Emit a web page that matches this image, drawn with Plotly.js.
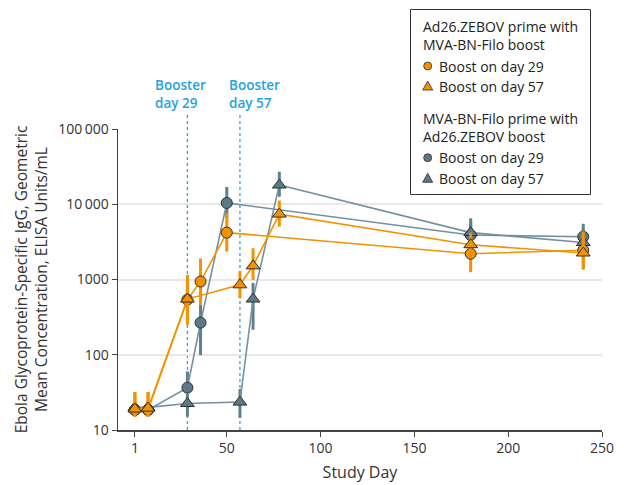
<!DOCTYPE html>
<html>
<head>
<meta charset="utf-8">
<script src="https://cdn.plot.ly/plotly-3.0.1.min.js"></script>
<style>html,body{margin:0;padding:0;background:#fff;}#chart{width:624px;height:485px;}</style>
</head>
<body>
<div id="chart"></div>
<script>
// Ad26.ZEBOV prime with MVA-BN-Filo boost, boost on day 29
const daysA29 = [1, 8, 29, 36, 50, 180, 240];
const gmcA29  = [18.5, 18.5, 540, 940, 4200, 2200, 2450];
const loA29   = [15, 15, 250, 460, 2350, 1250, 1400];
const hiA29   = [32, 32, 1150, 1900, 7600, 3600, 4300];
// Ad26.ZEBOV prime with MVA-BN-Filo boost, boost on day 57
const daysA57 = [1, 8, 29, 57, 64, 78, 180, 240];
const gmcA57  = [19, 19.5, 550, 850, 1520, 7400, 2900, 2250];
const loA57   = [15, 15, 300, 560, 990, 5050, 2000, 1350];
const hiA57   = [32, 32, 1000, 1300, 2600, 11200, 4200, 3800];
// MVA-BN-Filo prime with Ad26.ZEBOV boost, boost on day 29
const daysM29 = [1, 8, 29, 36, 50, 180, 240];
const gmcM29  = [18.5, 18.5, 36.5, 267, 10400, 3900, 3700];
const loM29   = [16, 16, 31, 99, 6500, 2600, 2500];
const hiM29   = [22, 22, 60, 460, 17000, 5800, 5500];
// MVA-BN-Filo prime with Ad26.ZEBOV boost, boost on day 57
const daysM57 = [1, 8, 29, 57, 64, 78, 180, 240];
const gmcM57  = [20, 20, 22.5, 23.5, 550, 18000, 4200, 3100];
const loM57   = [17, 17, 15, 14.5, 215, 12600, 2800, 2000];
const hiM57   = [24, 24, 30, 35, 900, 27000, 6500, 4700];

const boosterDays = [29, 57];
const yTickVals = [10, 100, 1000, 10000, 100000];
const yTickText = ['10', '100', '1000', '10\u2009000', '100\u2009000'];
const xTickVals = [1, 50, 100, 150, 200, 250];

const groupTitles = [['Ad26.ZEBOV prime with', 'MVA-BN-Filo boost'], ['MVA-BN-Filo prime with', 'Ad26.ZEBOV boost']];
const itemLabels = ['Boost on day 29', 'Boost on day 57'];

const ORANGE = '#f39200';
const GRAY_LINE = '#7391a0';
const GRAY_FILL = '#5c7988';
const GRAY_BAR = '#60808e';
const OUTLINE = '#2e2e2e';
const BLUE = '#1fa3dd';
const FONT = '"Open Sans", Roboto, sans-serif';

function series(days, gmc, lo, hi, lineColor, fill, barColor, symbol, size) {
  return {
    x: days, y: gmc, type: 'scatter', mode: 'lines+markers', showlegend: false,
    line: {color: lineColor, width: 1.6},
    marker: {symbol: symbol, size: size, color: fill, line: {color: OUTLINE, width: 1}},
    error_y: {type: 'data', symmetric: false,
      array: hi.map((h, i) => h - gmc[i]),
      arrayminus: lo.map((l, i) => gmc[i] - l),
      color: barColor, thickness: 3, width: 0},
    cliponaxis: false
  };
}

const data = [
  series(daysM29, gmcM29, loM29, hiM29, GRAY_LINE, GRAY_FILL, GRAY_BAR, 'circle', 11),
  series(daysM57, gmcM57, loM57, hiM57, GRAY_LINE, GRAY_FILL, GRAY_BAR, 'triangle-up', 12),
  series(daysA29, gmcA29, loA29, hiA29, ORANGE, ORANGE, ORANGE, 'circle', 11),
  series(daysA57, gmcA57, loA57, hiA57, ORANGE, ORANGE, ORANGE, 'triangle-up', 12)
];

// ---- layout helpers (pixel -> paper coordinates of the plot area) ----
const M = {l: 118, r: 22, t: 129, b: 55};
const PW = 624 - M.l - M.r, PH = 485 - M.t - M.b;
const px = p => (p - M.l) / PW;
const py = p => (485 - M.b - p) / PH;

const shapes = boosterDays.map(d => ({
  type: 'line', xref: 'x', yref: 'paper', x0: d, x1: d, y0: 0, y1: py(115),
  line: {color: '#22a8e6', width: 1.3, dash: 'dot'}, layer: 'below'
}));

// legend box
shapes.push({type: 'rect', xref: 'paper', yref: 'paper', x0: px(410.5), x1: px(590.5), y0: py(194.5), y1: py(9.5),
  fillcolor: '#fff', line: {color: '#333', width: 1}, layer: 'above'});

const legendFills = [ORANGE, GRAY_FILL];
const rowY = [[26, 44.3, 66, 86], [118.3, 136.7, 157.7, 178.3]];
const annotations = [];
groupTitles.forEach((lines, g) => {
  lines.forEach((t, k) => annotations.push({xref: 'paper', yref: 'paper', x: px(421), y: py(rowY[g][k]),
    xanchor: 'left', yanchor: 'middle', text: t, showarrow: false, font: {size: 14, color: '#222'}}));
  itemLabels.forEach((t, k) => {
    annotations.push({xref: 'paper', yref: 'paper', x: px(437), y: py(rowY[g][2 + k]),
      xanchor: 'left', yanchor: 'middle', text: t, showarrow: false, font: {size: 14, color: '#222'}});
    const common = {xref: 'paper', yref: 'paper', xsizemode: 'pixel', ysizemode: 'pixel',
      xanchor: px(427.7), yanchor: py(rowY[g][2 + k]), fillcolor: legendFills[g],
      line: {color: OUTLINE, width: 0.8}, layer: 'above'};
    if (k === 0) shapes.push(Object.assign({type: 'circle', x0: -4, x1: 4, y0: -4, y1: 4}, common));
    else shapes.push(Object.assign({type: 'path', path: 'M-5,-4 L5,-4 L0,5 Z'}, common));
  });
});

annotations.push(
  {xref: 'x', yref: 'paper', x: 25.3, y: py(94), xanchor: 'center', yanchor: 'middle', align: 'left',
   text: 'Booster<br>day ' + boosterDays[0], showarrow: false, font: {size: 13.5, color: BLUE, weight: 600}},
  {xref: 'x', yref: 'paper', x: 64.5, y: py(94), xanchor: 'center', yanchor: 'middle', align: 'left',
   text: 'Booster<br>day ' + boosterDays[1], showarrow: false, font: {size: 13.5, color: BLUE, weight: 600}}
);

const layout = {
  width: 624, height: 485,
  margin: Object.assign({autoexpand: false}, M),
  paper_bgcolor: '#fff', plot_bgcolor: '#fff',
  font: {family: FONT, size: 14, color: '#333'},
  showlegend: false,
  xaxis: {
    range: [-8, 250], tickvals: xTickVals, ticks: 'outside', ticklen: 5, tickcolor: '#444',
    showline: true, linecolor: '#444', linewidth: 1.5, showgrid: false, zeroline: false,
    tickfont: {size: 14, color: '#333'}, automargin: false,
    title: {text: 'Study Day', font: {size: 16, color: '#333'}, standoff: 10}
  },
  yaxis: {
    type: 'log', range: [1, 5], tickvals: yTickVals, ticktext: yTickText,
    ticks: 'outside', ticklen: 5, tickcolor: '#444',
    showline: true, linecolor: '#444', linewidth: 1.5,
    showgrid: true, gridcolor: '#e8e8e8', gridwidth: 2, zeroline: false,
    tickfont: {size: 14, color: '#333'}, automargin: false,
    title: {text: 'Ebola Glycoprotein-Specific IgG, Geometric<br>Mean Concentration, ELISA Units/mL',
            font: {size: 15.5, color: '#333'}, standoff: 7}
  },
  shapes: shapes,
  annotations: annotations
};

Plotly.newPlot('chart', data, layout, {displayModeBar: false, staticPlot: true});
</script>
</body>
</html>
